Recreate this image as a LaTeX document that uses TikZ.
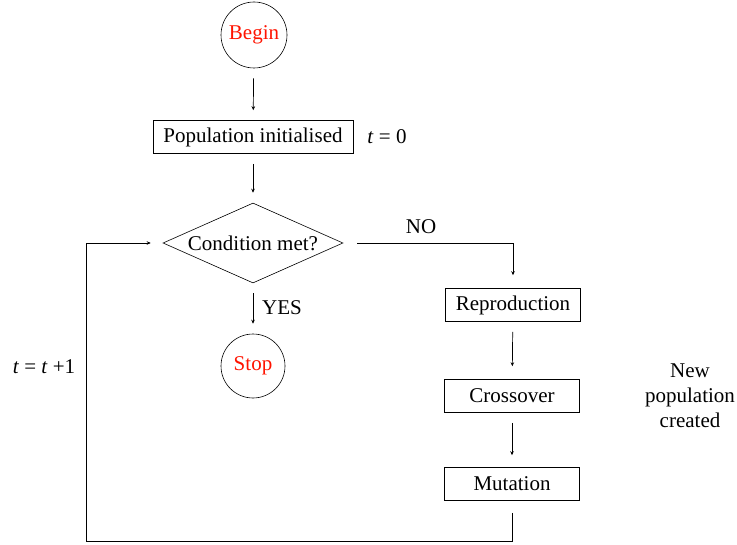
\documentclass[tikz,border=0pt]{standalone}
\usepackage{fontspec}
\setmainfont{Liberation Serif}
\usetikzlibrary{shapes.geometric,arrows.meta}
\tikzset{
  terminal/.style={
    draw, circle, minimum size=66bp, inner sep=0mm, text=red!85!orange, line width=0.6bp
  },
  stepbox/.style={
    draw, rectangle, minimum height=33bp, minimum width=135bp, line width=0.6bp
  },
  decision/.style={
    draw, diamond, aspect=2.25, minimum height=80bp, minimum width=180bp, inner sep=0mm,
    line width=0.6bp
  },
  plain/.style={inner sep=0mm},
  link/.style={
    -{Stealth[length=4bp,width=3.6bp]}, line width=0.7bp, shorten >=10bp, shorten <=10bp
  }
}

\begin{document}
\begin{tikzpicture}[x=1bp, y=-1bp, font=\fontsize{21bp}{25bp}\selectfont]
   \useasboundingbox (0,0) rectangle (737,545);

   \node[terminal] (begin) at (254, 35) {Begin};
   \node[stepbox, minimum width=200bp] (init) at (253, 137) {Population initialised};
   \node[plain] (tzero) at (387, 137) {\textit{t} = 0};
   \node[decision] (cond) at (253, 243) {Condition met?};
   \node[terminal, minimum size=64bp] (stop) at (253, 366) {Stop};
   \node[stepbox] (repro) at (513, 305) {Reproduction};
   \node[stepbox] (cross) at (512, 396) {Crossover};
   \node[stepbox] (mut) at (512, 484) {Mutation};
   \node[plain, align=center] (newpop) at (690, 396) {New\\population\\created};
   \node[plain] (tinc) at (44, 367) {\textit{t} = \textit{t} +1};
   \node[plain] (no) at (421, 227) {NO};
   \node[plain] (yes) at (282, 308) {YES};

   \draw[link] (begin) -- (init);
   \draw[link] (init) -- (cond);
   \draw[link] (cond) -- (stop);
   \draw[link, shorten <=14bp, shorten >=13bp] (cond.east) -| (repro.north);
   \draw[link, shorten >=13bp] (repro) -- (cross);
   \draw[link, shorten >=12bp] (cross) -- (mut);
   \draw[link, shorten <=12bp, shorten >=12bp] (mut.south) |- (86, 541) |- (cond.west);
\end{tikzpicture}
\end{document}
